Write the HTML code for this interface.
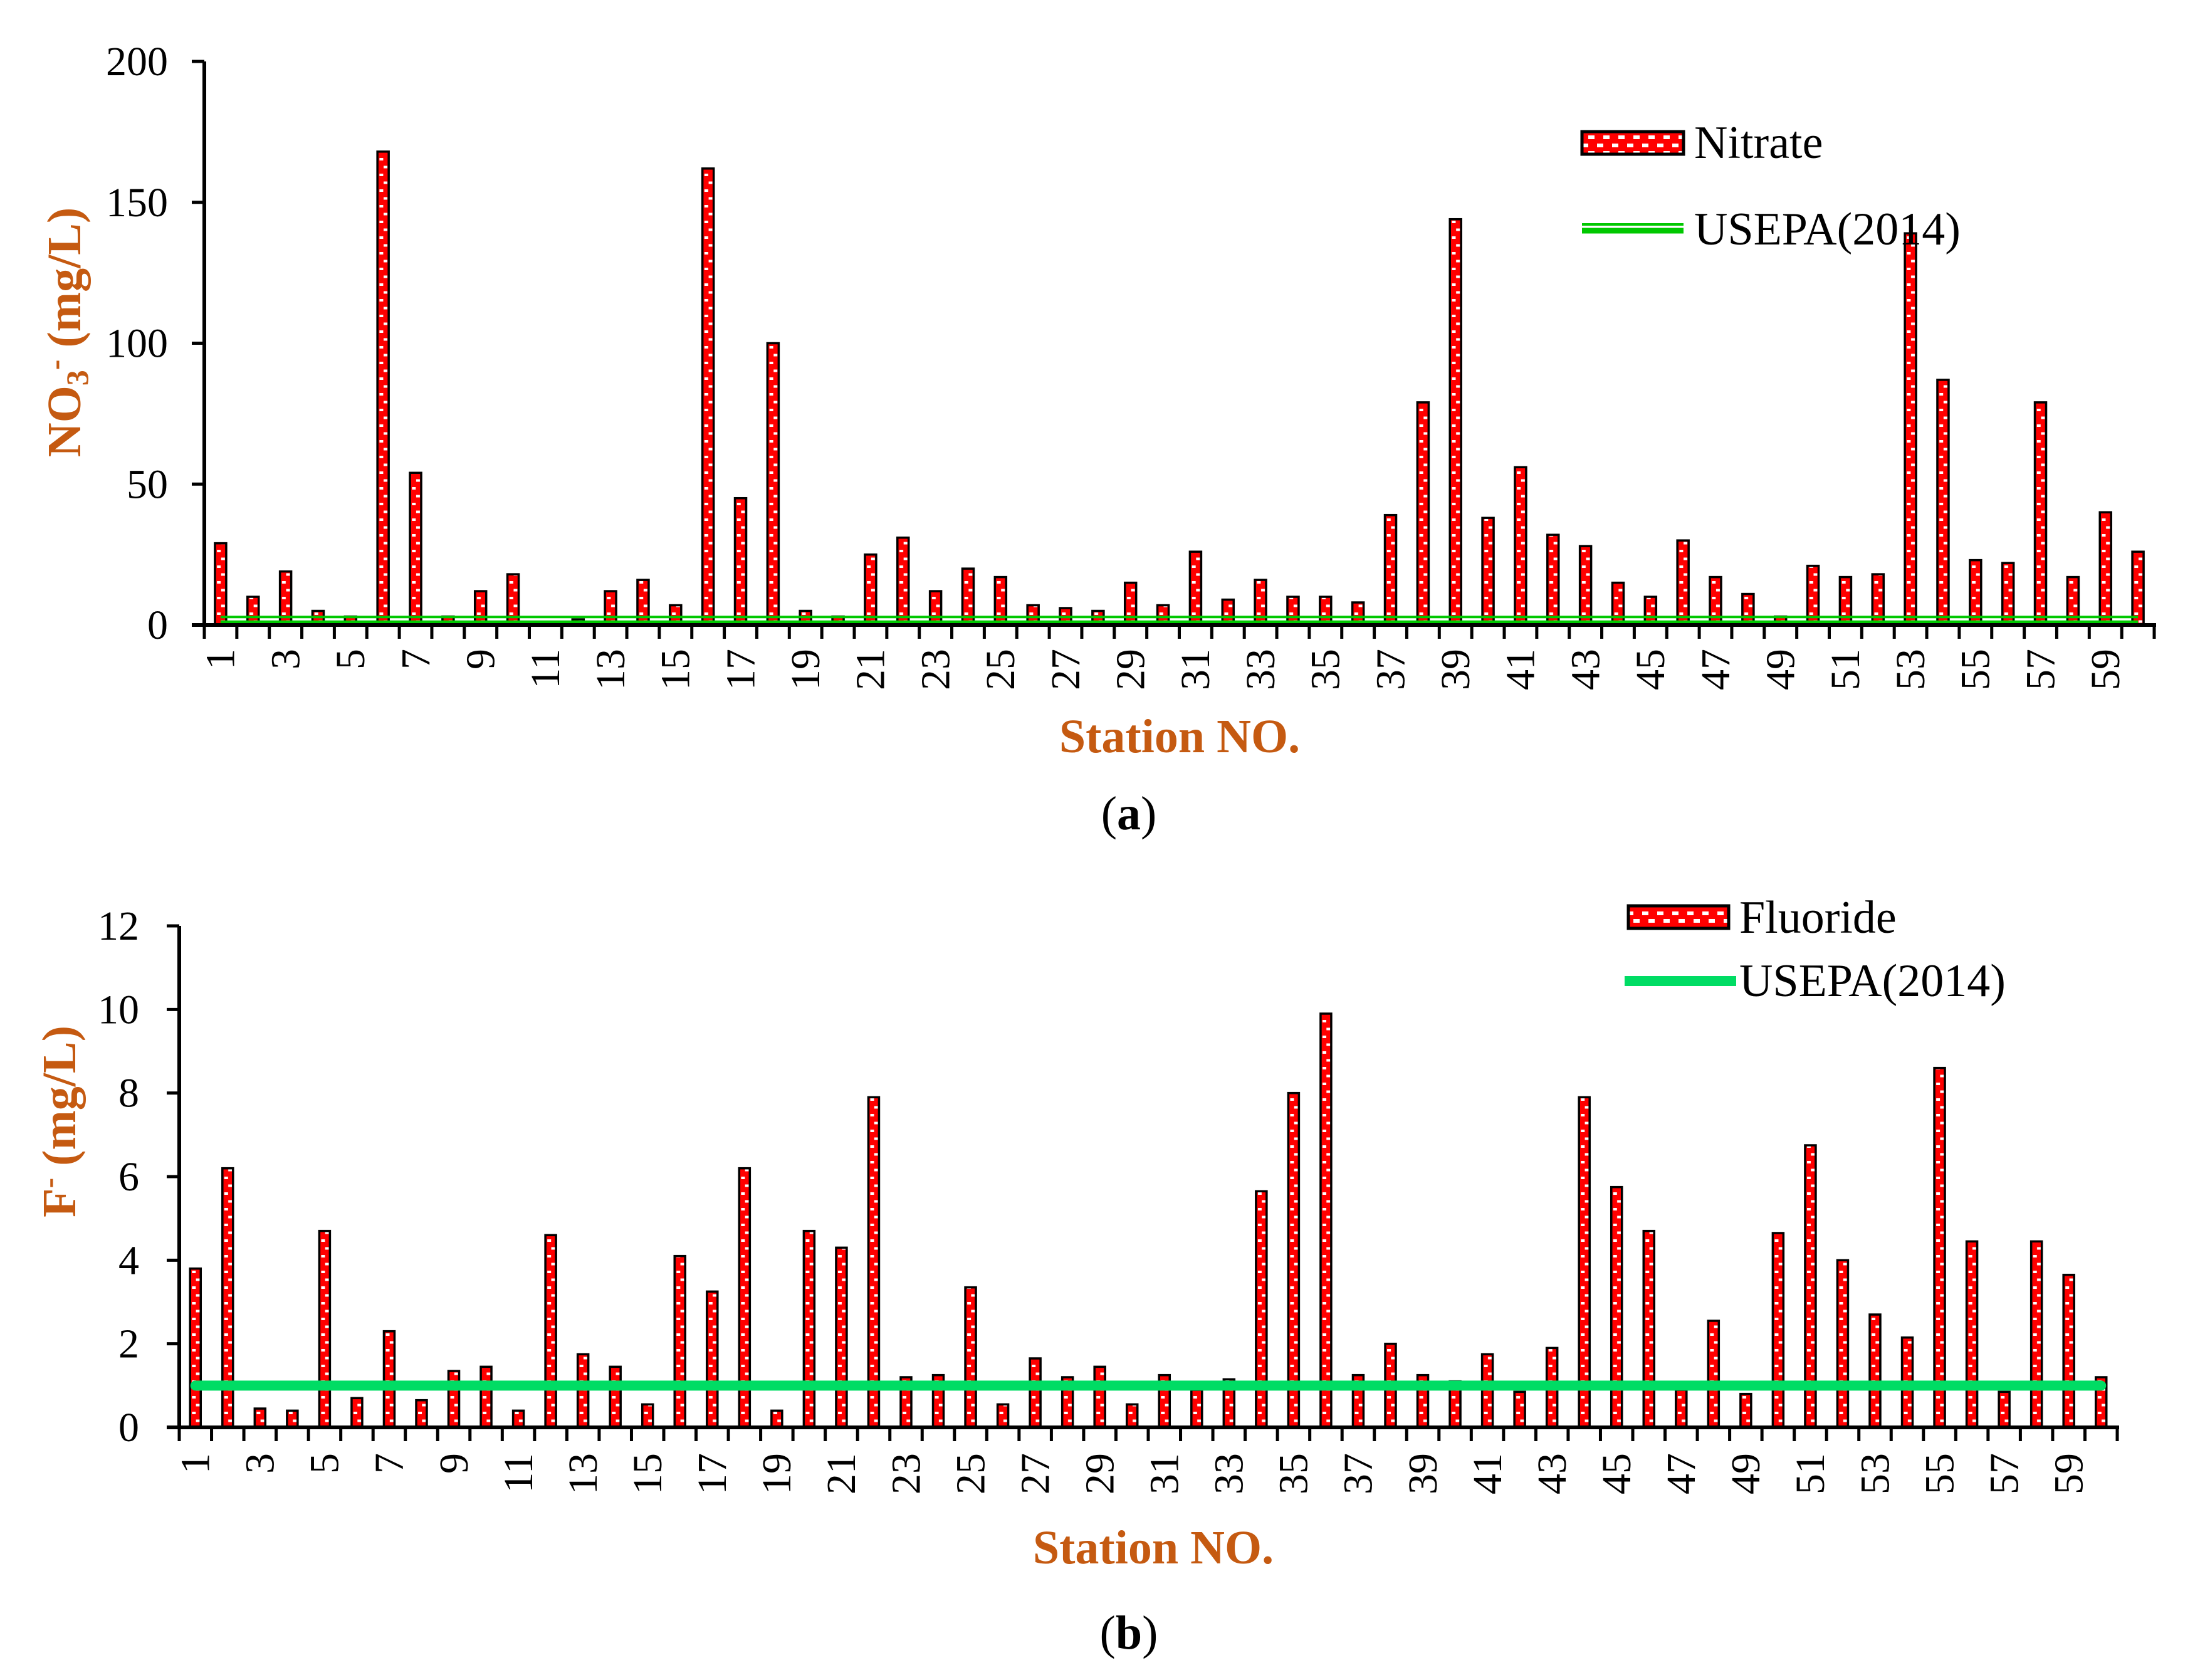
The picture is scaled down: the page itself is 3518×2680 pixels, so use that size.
<!DOCTYPE html>
<html><head><meta charset="utf-8"><style>
html,body{margin:0;padding:0;background:#fff}
svg{display:block}
text{font-family:"Liberation Serif",serif}
</style></head><body>
<svg id="fig" width="3518" height="2680" viewBox="0 0 3518 2680" xmlns="http://www.w3.org/2000/svg">
<defs id="defs"></defs>
<g id="chartA"></g>
<g id="chartB"></g>
</svg>
<script>
const stations = Array.from({length:60},(_,i)=>String(i+1));
const nitrateValues = [29,10,19,5,3,168,54,3,12,18,0,2,12,16,7,162,45,100,5,3,25,31,12,20,17,7,6,5,15,7,26,9,16,10,10,8,39,79,144,38,56,32,28,15,10,30,17,11,3,21,17,18,139,87,23,22,79,17,40,26];
const nitrateTicks = [0,50,100,150,200];
const nitrateLimit = 1.5;
const fluorideValues = [3.8,6.2,0.45,0.4,4.7,0.7,2.3,0.65,1.35,1.45,0.4,4.6,1.75,1.45,0.55,4.1,3.25,6.2,0.4,4.7,4.3,7.9,1.2,1.25,3.35,0.55,1.65,1.2,1.45,0.55,1.25,0.9,1.15,5.65,8.0,9.9,1.25,2.0,1.25,1.1,1.75,0.85,1.9,7.9,5.75,4.7,0.9,2.55,0.8,4.65,6.75,4.0,2.7,2.15,8.6,4.45,0.85,4.45,3.65,1.2];
const fluorideTicks = [0,2,4,6,8,10,12];
const fluorideLimit = 1;

const NS='http://www.w3.org/2000/svg';
function mk(tag,attrs,parent){const e=document.createElementNS(NS,tag);for(const k in attrs)e.setAttribute(k,attrs[k]);if(parent)parent.appendChild(e);return e;}
const defs=document.getElementById('defs');
let pid=0;
function patFor(x,w){
  const id='p'+(pid++);
  const p=mk('pattern',{id:id,patternUnits:'userSpaceOnUse',x:x,y:0,width:w,height:25},defs);
  mk('rect',{x:0,y:0,width:w,height:25,fill:'#ff0000'},p);
  mk('rect',{x:w*0.18,y:2,width:6,height:4,fill:'#fff'},p);
  mk('rect',{x:w*0.55,y:14.5,width:6,height:4,fill:'#fff'},p);
  return 'url(#'+id+')';
}
function drawChart(cfg){
  const g=document.getElementById(cfg.id);
  const {x0,x1,y0,yTop,vmax,values,ticks,barW}=cfg;
  const step=(x1-x0)/values.length;
  const xc=i=>x0+step*(i+0.5);
  const ys=v=>y0-(v/vmax)*(y0-yTop);
  values.forEach((v,i)=>{
    const bx=xc(i)-barW/2, by=ys(v), h=y0-by;
    const r=mk('rect',{x:bx,y:by,width:barW,height:Math.max(h,0),fill:patFor(bx,barW),stroke:'#000','stroke-width':3.5},g);
    
    
  });
  const ly=ys(cfg.limit);
  if(cfg.double){
    const l1=mk('line',{x1:xc(0),x2:xc(values.length-1),y1:ly-6,y2:ly-6,stroke:'#00c800','stroke-width':4},g);
    
    
    mk('line',{x1:xc(0),x2:xc(values.length-1),y1:ly+4,y2:ly+4,stroke:'#00c800','stroke-width':9},g);
  } else {
    const l=mk('line',{x1:xc(0),x2:xc(values.length-1),y1:ly,y2:ly,stroke:'#00dc64','stroke-width':16,'stroke-linecap':'round'},g);
    
    
  }
  const ya=mk('line',{x1:x0,x2:x0,y1:yTop,y2:y0+3,stroke:'#000','stroke-width':6},g);
  
  
  const xa=mk('line',{x1:x0-20,x2:x1+3,y1:y0,y2:y0,stroke:'#000','stroke-width':6},g);
  
  
  ticks.forEach(t=>{
    const y=ys(t);
    mk('line',{x1:x0-20,x2:x0,y1:y,y2:y,stroke:'#000','stroke-width':5},g);
    const tx=mk('text',{x:cfg.ylabX,y:y+22,'text-anchor':'end','font-size':66,fill:'#000'},g);
    tx.textContent=String(t);
    
    
  });
  for(let i=0;i<=values.length;i++){
    const x=x0+step*i;
    mk('line',{x1:x,x2:x,y1:y0,y2:y0+22,stroke:'#000','stroke-width':5},g);
  }
  stations.forEach((s,i)=>{
    if(i%2!==0)return;
    const cx=xc(i), cy=cfg.xlabY;
    const t=mk('text',{x:cx,y:cy,'text-anchor':'end','font-size':66,fill:'#000',transform:'rotate(-90 '+cx+' '+cy+')',dy:'0.33em'},g);
    t.textContent=s;
    
    
  });
}
drawChart({id:'chartA',x0:326,x1:3437,y0:997,yTop:98,vmax:200,values:nitrateValues,ticks:nitrateTicks,barW:18,limit:nitrateLimit,double:true,ylabX:268,xlabY:1035});
drawChart({id:'chartB',x0:286,x1:3378,y0:2277,yTop:1477,vmax:12,values:fluorideValues,ticks:fluorideTicks,barW:17,limit:fluorideLimit,double:false,ylabX:222,xlabY:2318});
</script>
<svg style="position:absolute;left:0;top:0" width="3518" height="2680" xmlns="http://www.w3.org/2000/svg">
<defs>
<pattern id="legpat" patternUnits="userSpaceOnUse" x="0" y="0" width="24" height="25">
<rect width="24" height="25" fill="#ff0000"/><rect x="4" y="4" width="10" height="6" fill="#fff"/><rect x="14" y="16" width="10" height="6" fill="#fff"/>
</pattern>
</defs>
<text transform="translate(128 530) rotate(-90)" text-anchor="middle" font-size="76" font-weight="bold" fill="#c55a11">NO<tspan font-size="50" dy="12">3</tspan><tspan font-size="50" dy="-36">-</tspan><tspan dy="24"> (mg/L)</tspan></text>
<text x="1882" y="1200" text-anchor="middle" font-size="76" font-weight="bold" fill="#c55a11">Station NO.</text>
<text x="1801" y="1323" text-anchor="middle" font-size="76" fill="#000">(<tspan font-weight="bold">a</tspan>)</text>
<g>
<rect x="2524" y="210" width="162" height="36" fill="url(#legpat)" stroke="#000" stroke-width="5"/>
<text x="2703" y="252" font-size="74" fill="#000">Nitrate</text>
</g>
<g>
<line x1="2524" x2="2686" y1="358" y2="358" stroke="#00c800" stroke-width="4"/>
<line x1="2524" x2="2686" y1="368" y2="368" stroke="#00c800" stroke-width="9"/>
<text x="2703" y="390" font-size="74" fill="#000">USEPA(2014)</text>
</g>
<text transform="translate(120 1789) rotate(-90)" text-anchor="middle" font-size="76" font-weight="bold" fill="#c55a11">F<tspan font-size="50" dy="-26">-</tspan><tspan dy="26"> (mg/L)</tspan></text>
<text x="1840" y="2494" text-anchor="middle" font-size="76" font-weight="bold" fill="#c55a11">Station NO.</text>
<text x="1801" y="2630" text-anchor="middle" font-size="76" fill="#000">(<tspan font-weight="bold">b</tspan>)</text>
<g>
<rect x="2598" y="1445" width="160" height="36" fill="url(#legpat)" stroke="#000" stroke-width="5"/>
<text x="2775" y="1488" font-size="74" fill="#000">Fluoride</text>
</g>
<g>
<line x1="2592" x2="2770" y1="1565" y2="1565" stroke="#00dc64" stroke-width="16"/>
<text x="2775" y="1589" font-size="74" fill="#000">USEPA(2014)</text>
</g>
</svg>
</body></html>
